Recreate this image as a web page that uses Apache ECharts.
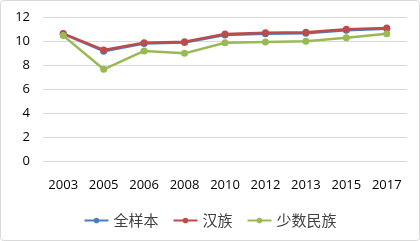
<!DOCTYPE html>
<html>
<head>
<meta charset="utf-8">
<script src="https://cdn.jsdelivr.net/npm/echarts@6/dist/echarts.min.js"></script>
<style>
  html, body { margin: 0; padding: 0; background: #fff; }
  #chart { width: 420px; height: 241px; }
</style>
</head>
<body>
<div id="chart"></div>
<script>
// 年份
const years = ['2003', '2005', '2006', '2008', '2010', '2012', '2013', '2015', '2017']
// 各组数值
const allSample = [10.6, 9.15, 9.8, 9.87, 10.5, 10.6, 10.65, 10.9, 11.02]
const han = [10.62, 9.25, 9.86, 9.94, 10.58, 10.68, 10.72, 10.97, 11.08]
const minority = [10.45, 7.64, 9.17, 8.97, 9.86, 9.92, 9.97, 10.28, 10.61]
const seriesNames = ['全样本', '汉族', '少数民族']
const colors = ['#4A7EBB', '#BE4B48', '#98B954']

const chart = echarts.init(document.getElementById('chart'))

const makeSeries = (name, data, color) => ({
  name: name,
  type: 'line',
  data: data,
  symbol: 'circle',
  symbolSize: 7,
  lineStyle: { width: 2.5, color: color },
  itemStyle: { color: color },
  animation: false
})

const option = {
  backgroundColor: '#fff',
  color: colors,
  textStyle: { fontFamily: 'Open Sans, Noto Sans CJK SC' },
  graphic: [{
    type: 'rect',
    shape: { x: 0.5, y: 0.5, width: 419, height: 240, r: 3 },
    style: { fill: 'none', stroke: '#D9D9D9', lineWidth: 1 },
    silent: true
  }],
  grid: { left: 43, right: 13, top: 17, bottom: 80, containLabel: false },
  legend: {
    data: seriesNames,
    bottom: 8,
    left: 'center',
    itemWidth: 24,
    itemHeight: 7,
    itemGap: 14,
    textStyle: { fontFamily: 'Noto Sans CJK SC', fontSize: 15, color: '#404040' }
  },
  xAxis: {
    type: 'category',
    data: years,
    boundaryGap: true,
    axisLine: { show: false },
    axisTick: { show: false },
    axisLabel: { color: '#000', fontSize: 13, margin: 18, interval: 0 }
  },
  yAxis: {
    type: 'value',
    min: 0,
    max: 12,
    interval: 2,
    axisLine: { show: false },
    axisTick: { show: false },
    axisLabel: { color: '#000', fontSize: 13, margin: 13 },
    splitLine: { lineStyle: { color: '#D9D9D9', width: 1 } }
  },
  series: [
    makeSeries(seriesNames[0], allSample, colors[0]),
    makeSeries(seriesNames[1], han, colors[1]),
    makeSeries(seriesNames[2], minority, colors[2])
  ]
}

chart.setOption(option)
</script>
</body>
</html>
